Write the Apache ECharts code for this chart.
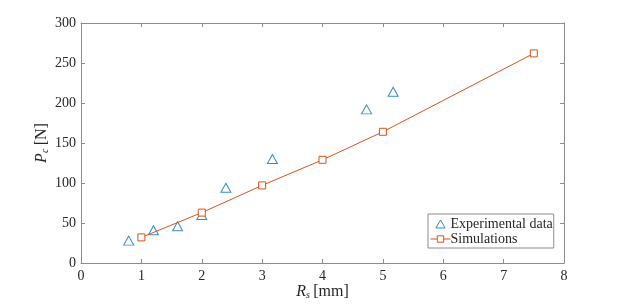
<!DOCTYPE html>
<html><head><meta charset="utf-8">
<script src="https://cdn.jsdelivr.net/npm/echarts@6/dist/echarts.min.js"></script>
<style>html,body{margin:0;padding:0;background:#fff}#c{width:623px;height:304px}</style>
</head><body><div id="c"></div>
<script>
const expX = [0.79, 1.2, 1.6, 2.0, 2.4, 3.17, 4.73, 5.17];
const expY = [28, 41, 46, 60, 94, 130, 192, 214];
const simX = [1, 2, 3, 4, 5, 7.5];
const simY = [32, 63, 97, 129, 164, 262];
const xTicks = [0, 1, 2, 3, 4, 5, 6, 7, 8];
const yTicks = [0, 50, 100, 150, 200, 250, 300];

const font = 'Liberation Serif';
const axisCol = '#8c8c8c';
const txt = '#262626';
const chart = echarts.init(document.getElementById('c'));
const baseX = {
  type: 'value', min: xTicks[0], max: xTicks[xTicks.length-1], interval: 1,
  splitLine: {show: false},
  axisLine: {show: true, onZero: false, lineStyle: {color: axisCol, width: 1}},
  axisTick: {show: true, inside: true, length: 4, lineStyle: {color: axisCol}},
};
const baseY = {
  type: 'value', min: yTicks[0], max: yTicks[yTicks.length-1], interval: 50,
  splitLine: {show: false},
  axisLine: {show: true, onZero: false, lineStyle: {color: axisCol, width: 1}},
  axisTick: {show: true, inside: true, length: 4, lineStyle: {color: axisCol}},
};
const nameRich = {
  i: {fontFamily: font, fontStyle: 'italic', fontSize: 16, color: txt},
  s: {fontFamily: font, fontStyle: 'italic', fontSize: 10, color: txt, padding: [6,0,0,0]},
  n: {fontFamily: font, fontSize: 16, color: txt}
};
chart.setOption({
  animation: false,
  grid: {left: 81, right: 59, top: 23, bottom: 41, containLabel: false, outerBoundsMode: 'none'},
  xAxis: [
    Object.assign({}, baseX, {position: 'bottom',
      axisLabel: {color: txt, fontFamily: font, fontSize: 14, margin: 6},
      name: '{i|R}{s|s} {n|[mm]}', nameLocation: 'middle', nameGap: 21, nameMoveOverlap: false,
      nameTextStyle: {rich: nameRich}}),
    Object.assign({}, baseX, {position: 'top', axisLabel: {show: false}})
  ],
  yAxis: [
    Object.assign({}, baseY, {position: 'left',
      axisLabel: {color: txt, fontFamily: font, fontSize: 14, margin: 5},
      name: '{i|P}{s|c} {n|[N]}', nameLocation: 'middle', nameGap: 31, nameMoveOverlap: false,
      nameTextStyle: {rich: nameRich}}),
    Object.assign({}, baseY, {position: 'right', axisLabel: {show: false}})
  ],
  legend: {
    left: 428, top: 214, orient: 'vertical',
    backgroundColor: '#fff', borderColor: axisCol, borderWidth: 1,
    padding: [3, 1, 2, 2], itemGap: 1, itemWidth: 20, itemHeight: 8,
    itemStyle: {borderWidth: 1},
    lineStyle: {width: 1},
    textStyle: {fontFamily: font, fontSize: 14, color: txt, padding: [0,0,0,-5]},
    data: [
      {name: 'Experimental data', icon: 'path://M10,2 L14,9 L6,9 Z', itemStyle: {color: '#fff', borderColor: '#0072BD', borderWidth: 1}},
      {name: 'Simulations'}
    ]
  },
  series: [
    {name: 'Experimental data', type: 'scatter', symbol: 'triangle', symbolSize: [10, 9],
     itemStyle: {color: '#fff', borderColor: '#0072BD', borderWidth: 1},
     data: expX.map((x, i) => [x, expY[i]])},
    {name: 'Simulations', type: 'line', symbol: 'rect', symbolSize: 7, showSymbol: true,
     lineStyle: {color: '#D95319', width: 1},
     itemStyle: {color: '#fff', borderColor: '#D95319', borderWidth: 1},
     data: simX.map((x, i) => [x, simY[i]])}
  ]
});
</script></body></html>
